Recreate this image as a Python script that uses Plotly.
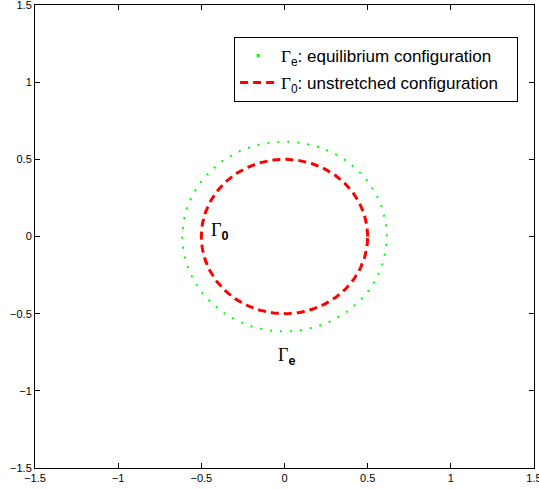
import numpy as np
import plotly.graph_objects as go

# Data
radius_equilibrium = 0.615
radius_unstretched = 0.5
n_points = 200
tick_vals = [-1.5, -1, -0.5, 0, 0.5, 1, 1.5]
tick_text = ["\u22121.5", "\u22121", "\u22120.5", "0", "0.5", "1", "1.5"]
GAMMA = "<span style='font-family:Liberation Serif'>\u0393</span>"
label_g0 = {"x": -0.39, "y": 0.03, "text": GAMMA + "<sub><b>0</b></sub>"}
label_ge = {"x": 0.012, "y": -0.78, "text": GAMMA + "<sub><b>e</b></sub>"}
name_e = GAMMA + "<sub>e</sub>: equilibrium configuration\u00a0\u00a0\u00a0"
name_0 = GAMMA + "<sub>0</sub>: unstretched configuration\u00a0\u00a0\u00a0"

theta = np.linspace(0, 2 * np.pi, n_points)

fig = go.Figure()
fig.add_trace(go.Scatter(
    x=radius_equilibrium * np.cos(theta), y=radius_equilibrium * np.sin(theta),
    mode="lines", line=dict(color="#00ff00", width=2, dash="2px,8px"),
    name=name_e, legendgroup="e", showlegend=False))
# legend-only entry: MATLAB shows a single dot for the dotted style
fig.add_trace(go.Scatter(
    x=[None], y=[None], mode="markers",
    marker=dict(color="#00ff00", size=3, symbol="square", line=dict(width=0)),
    name=name_e, legendgroup="e"))
fig.add_trace(go.Scatter(
    x=radius_unstretched * np.cos(theta), y=radius_unstretched * np.sin(theta),
    mode="lines", line=dict(color="#ff0000", width=3, dash="8px,5px"),
    name=name_0, legendgroup="0"))

for lab in (label_g0, label_ge):
    fig.add_annotation(x=lab["x"], y=lab["y"], text=lab["text"], showarrow=False,
                       font=dict(size=18, color="black", family="Liberation Sans, Arial"))

axis_common = dict(range=[-1.5, 1.5], tickvals=tick_vals, ticktext=tick_text,
                   ticks="inside", ticklen=5, tickcolor="black", showline=True,
                   linecolor="black", linewidth=1, mirror="ticks", showgrid=False,
                   zeroline=False, tickfont=dict(size=11, color="black"),
                   ticklabeloverflow="allow", automargin=False)

fig.update_layout(
    width=539, height=489,
    margin=dict(l=35, r=5, t=5, b=21),
    paper_bgcolor="white", plot_bgcolor="white",
    font=dict(family="Liberation Sans, Arial", color="black"),
    xaxis=axis_common, yaxis=axis_common,
    showlegend=True,
    legend=dict(x=0.399, y=0.931, xanchor="left", yanchor="top",
                bgcolor="white", bordercolor="black", borderwidth=1,
                font=dict(size=17, color="black"), tracegroupgap=2,
                itemwidth=36),
)

fig.write_html("out.html")
